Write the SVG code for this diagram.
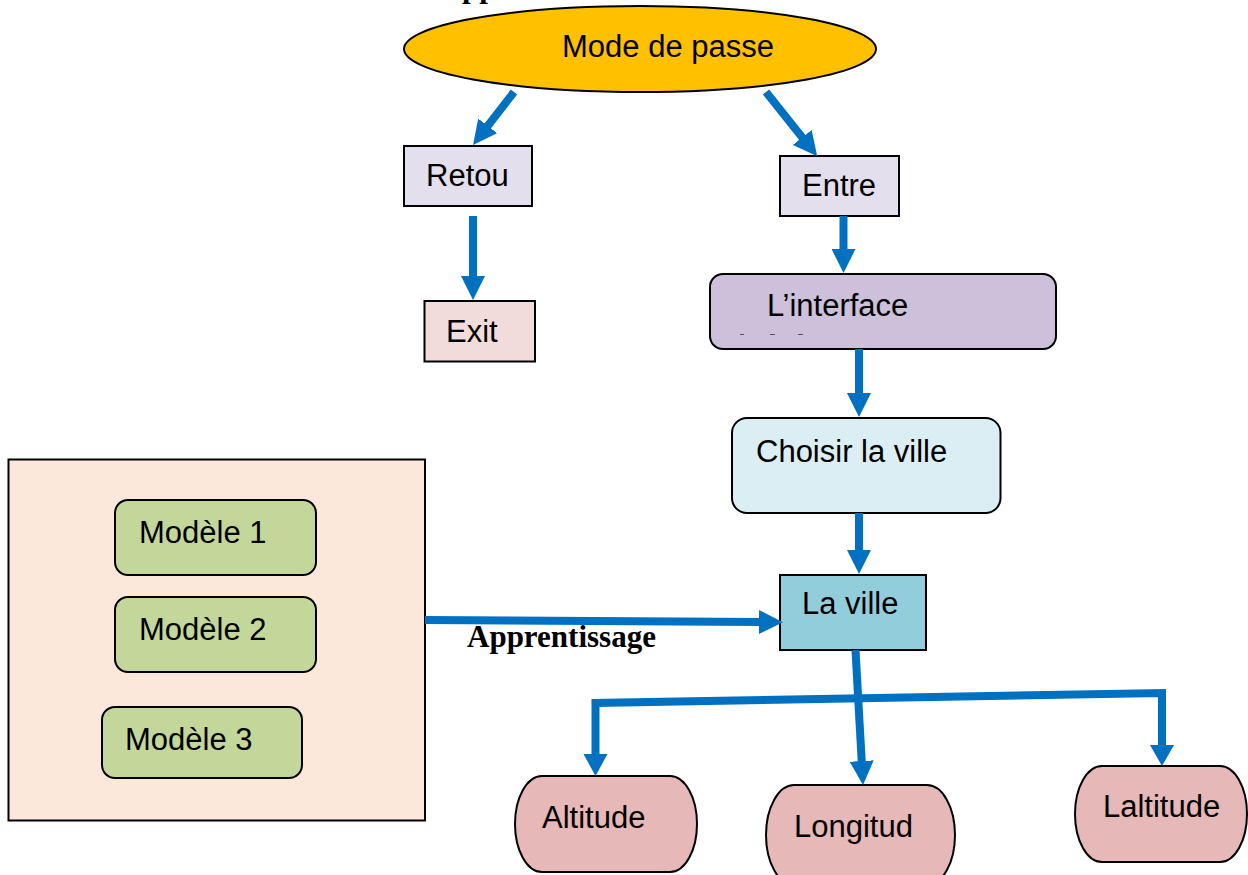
<svg xmlns="http://www.w3.org/2000/svg" width="1248" height="875" viewBox="0 0 1248 875">
  <style>
    .lbl { font-family: "Liberation Sans", Arial, sans-serif; font-size: 31px; fill: #000; }
    .bold { font-family: "Liberation Serif", "Times New Roman", serif; font-size: 31px; font-weight: bold; fill: #000; }
    .box { stroke: #000; stroke-width: 2; }
    .conn { stroke: #0070C0; stroke-width: 8; fill: none; }
  </style>
  <defs>
    <marker id="head" markerUnits="userSpaceOnUse" markerWidth="24" markerHeight="24" refX="2" refY="12" orient="auto">
      <path d="M0,0 L24,12 L0,24 z" fill="#0070C0"/>
    </marker>
  </defs>

  <rect width="1248" height="875" fill="#fff"/>

  <!-- heading fragment at the top edge -->
  <text class="bold" x="462" y="-3">pp</text>

  <!-- model container -->
  <g id="models">
    <rect class="box" x="8.5" y="459.5" width="416.5" height="361" fill="#FCE8DA"/>
    <g id="model1">
      <rect class="box" x="115" y="500" width="201" height="75" rx="13" fill="#C4D79B"/>
      <text class="lbl" x="139" y="543">Modèle 1</text>
    </g>
    <g id="model2">
      <rect class="box" x="115" y="597" width="201" height="75" rx="13" fill="#C4D79B"/>
      <text class="lbl" x="139" y="640">Modèle 2</text>
    </g>
    <g id="model3">
      <rect class="box" x="102" y="707" width="200" height="71" rx="13" fill="#C4D79B"/>
      <text class="lbl" x="125" y="750">Modèle 3</text>
    </g>
  </g>

  <g id="mode">
    <ellipse class="box" cx="640" cy="49" rx="236" ry="43" fill="#FFC000"/>
    <text class="lbl" x="562" y="57">Mode de passe</text>
  </g>

  <g id="retou">
    <rect class="box" x="404" y="146" width="128" height="60" fill="#E4DFEC"/>
    <text class="lbl" x="426" y="186">Retou</text>
  </g>

  <g id="entre">
    <rect class="box" x="780" y="156" width="119" height="60" fill="#E4DFEC"/>
    <text class="lbl" x="802" y="196">Entre</text>
  </g>

  <g id="exit">
    <rect class="box" x="424.5" y="301" width="110.5" height="60.5" fill="#F2DCDB"/>
    <text class="lbl" x="446" y="342">Exit</text>
  </g>

  <g id="interface">
    <rect class="box" x="710" y="274" width="346" height="75" rx="13" fill="#CCC0DA"/>
    <text class="lbl" x="767" y="316">L’interface</text>
    <path d="M740,334.5h4 M770,334.5h5 M798,334.5h5" stroke="#555" stroke-width="1.2"/>
  </g>

  <g id="choisir">
    <rect class="box" x="732" y="418" width="268.5" height="95" rx="15" fill="#DAEEF3"/>
    <text class="lbl" x="756" y="462">Choisir la ville</text>
  </g>

  <g id="ville">
    <rect class="box" x="780" y="575" width="146" height="75" fill="#92CDDC"/>
    <text class="lbl" x="802" y="614">La ville</text>
  </g>

  <g id="altitude">
    <rect class="box" x="515" y="776" width="182" height="96" rx="27" ry="48" fill="#E6B8B7"/>
    <text class="lbl" x="542" y="828">Altitude</text>
  </g>

  <g id="longitud">
    <rect class="box" x="766" y="785" width="189" height="100" rx="28" ry="50" fill="#E6B8B7"/>
    <text class="lbl" x="794" y="837">Longitud</text>
  </g>

  <g id="laltitude">
    <rect class="box" x="1075" y="766" width="172" height="96" rx="27" ry="48" fill="#E6B8B7"/>
    <text class="lbl" x="1103" y="817">Laltitude</text>
  </g>

  <!-- connectors: each path stops where its arrowhead begins -->
  <g id="connectors">
    <path class="conn" d="M514,92 L486.5,127.5" marker-end="url(#head)"/>
    <path class="conn" d="M766,92 L803.5,139" marker-end="url(#head)"/>
    <path class="conn" d="M473,216 V278" marker-end="url(#head)"/>
    <path class="conn" d="M843.5,216 V251" marker-end="url(#head)"/>
    <path class="conn" d="M859,349 V395" marker-end="url(#head)"/>
    <path class="conn" d="M859,513 V552" marker-end="url(#head)"/>
    <path class="conn" stroke-width="7.5" d="M425,620 L761,622" marker-end="url(#head)"/>
    <text class="bold" x="467" y="647">Apprentissage</text>
    <path class="conn" stroke-width="7" d="M855.5,650 L861.8,763" marker-end="url(#head)"/>
    <path class="conn" stroke-width="7" d="M595.5,754 V703 L1162,693 V745" stroke-linejoin="miter"/>
    <path d="M583.5,754 L595.5,776 L607.5,754 z" fill="#0070C0"/>
    <path d="M1150,745 L1162,766 L1174,745 z" fill="#0070C0"/>
  </g>
</svg>
